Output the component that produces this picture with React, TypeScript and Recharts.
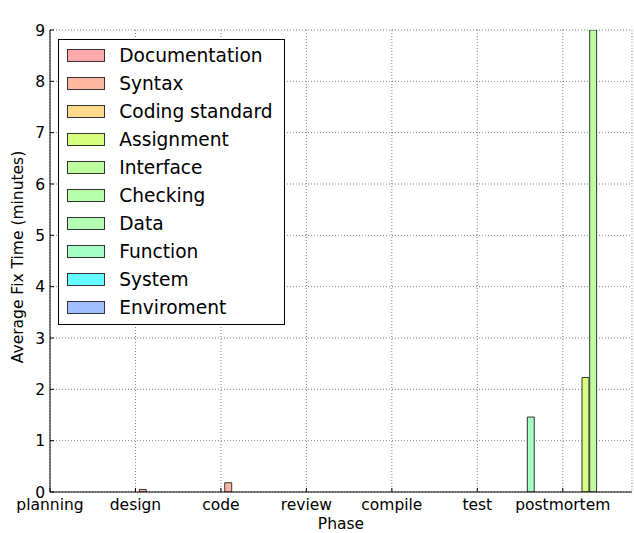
import React from 'react';
import { ComposedChart, Bar, XAxis, YAxis, CartesianGrid, Legend } from 'recharts';

const phases = ['planning', 'design', 'code', 'review', 'compile', 'test', 'postmortem'];
const defectTypes = [
  'Documentation',
  'Syntax',
  'Coding standard',
  'Assignment',
  'Interface',
  'Checking',
  'Data',
  'Function',
  'System',
  'Enviroment',
];

const documentationTimes = [0, 0, 0, 0, 0, 0, 0];
const syntaxTimes = [0, 0.05, 0.18, 0, 0, 0, 0];
const codingStandardTimes = [0, 0, 0, 0, 0, 0, 0];
const assignmentTimes = [0, 0, 0, 0, 0, 0, 2.23];
const interfaceTimes = [0, 0, 0, 0, 0, 0, 9.6];
const checkingTimes = [0, 0, 0, 0, 0, 0, 0];
const dataTimes = [0, 0, 0, 0, 0, 0, 0];
const functionTimes = [0, 0, 0, 0, 0, 1.46, 0];
const systemTimes = [0, 0, 0, 0, 0, 0, 0];
const enviromentTimes = [0, 0, 0, 0, 0, 0, 0];

const yTicks = [0, 1, 2, 3, 4, 5, 6, 7, 8, 9];
const xTicks = [0, 1, 2, 3, 4, 5, 6];

const typeColors = [
  '#ffaaaa',
  '#ffb9a3',
  '#ffd98c',
  '#d9ff80',
  '#c0ffa0',
  '#b8ffac',
  '#b3ffb3',
  '#a3ffc4',
  '#66ffff',
  '#a3bfff',
];

const seriesTimes = [
  documentationTimes,
  syntaxTimes,
  codingStandardTimes,
  assignmentTimes,
  interfaceTimes,
  checkingTimes,
  dataTimes,
  functionTimes,
  systemTimes,
  enviromentTimes,
];

// layout constants
const W = 634;
const H = 533;
const PLOT_LEFT = 50;
const PLOT_RIGHT = 632;
const PLOT_TOP = 30;
const PLOT_BOTTOM = 492;
const X_MAX = 6.81;
const BAR_STEP = 0.09;
const BAR_PX = (BAR_STEP * (PLOT_RIGHT - PLOT_LEFT)) / X_MAX;
const FONT = "'DejaVu Sans', sans-serif";
const EDGE = '#333';

const rows = phases.flatMap((_, i) =>
  defectTypes.map((__, j) => ({ x: i + j * BAR_STEP, ['s' + j]: seriesTimes[j][i] }))
);

const LegendBox = () => (
  <div
    style={{
      position: 'relative',
      width: 227,
      height: 286,
      boxSizing: 'border-box',
      border: '1px solid #000',
      background: '#fff',
      fontFamily: FONT,
      fontSize: 18.6,
      color: '#000',
    }}
  >
    {defectTypes.map((t, j) => (
      <div
        key={t}
        style={{
          position: 'absolute',
          left: 0,
          top: 1.7 + 28 * j,
          height: 28,
          display: 'flex',
          alignItems: 'center',
          whiteSpace: 'nowrap',
        }}
      >
        <div
          style={{
            marginLeft: 7.7,
            width: 38.3,
            height: 13,
            boxSizing: 'border-box',
            background: typeColors[j],
            border: '1px solid ' + EDGE,
            flex: 'none',
          }}
        />
        <span style={{ marginLeft: 14.3, lineHeight: 'normal' }}>{t}</span>
      </div>
    ))}
  </div>
);

const cx = (PLOT_LEFT + PLOT_RIGHT) / 2;

export default function App() {
  return (
    <div
      style={{
        position: 'absolute',
        left: 0,
        top: 0,
        width: W,
        height: H,
        background: '#fff',
        fontFamily: FONT,
      }}
    >
      <ComposedChart
        width={W}
        height={H}
        data={rows}
        margin={{ top: PLOT_TOP, right: W - PLOT_RIGHT, bottom: 0, left: 0 }}
        barGap={0}
        barCategoryGap={0}
      >
        <CartesianGrid stroke="#000" strokeDasharray="1 2" strokeWidth={0.5} />
        <XAxis
          dataKey="x"
          type="number"
          domain={[0, X_MAX]}
          ticks={xTicks}
          interval={0}
          allowDataOverflow
          tickFormatter={(v: number) => phases[v] ?? ''}
          height={H - PLOT_BOTTOM}
          tickSize={-4}
          tickMargin={11}
          stroke="#000"
          tick={{ fill: '#000', fontSize: 15.5, fontFamily: FONT }}
          label={{
            content: () => (
              <text x={cx} y={529} textAnchor="middle" fill="#000" fontSize={15.5} fontFamily={FONT}>
                Phase
              </text>
            ),
          }}
        />
        <XAxis
          xAxisId="top"
          orientation="top"
          dataKey="x"
          type="number"
          domain={[0, X_MAX]}
          ticks={xTicks}
          interval={0}
          allowDataOverflow
          height={0}
          tick={false}
          tickSize={-4}
          stroke="#000"
          label={{
            content: () => (
              <text x={cx} y={23.5} textAnchor="middle" fill="#000" fontSize={18.6} fontFamily={FONT}>
                Average Fix Time
              </text>
            ),
          }}
        />
        <YAxis
          type="number"
          domain={[0, 9]}
          ticks={yTicks}
          interval={0}
          allowDataOverflow
          width={PLOT_LEFT}
          tickSize={-4}
          tickMargin={9}
          stroke="#000"
          tick={{ fill: '#000', fontSize: 15.5, fontFamily: FONT }}
          label={{
            content: () => (
              <text
                x={23}
                y={257}
                transform="rotate(-90 23 257)"
                textAnchor="middle"
                fill="#000"
                fontSize={15.5}
                fontFamily={FONT}
              >
                Average Fix Time (minutes)
              </text>
            ),
          }}
        />
        <YAxis
          yAxisId="right"
          orientation="right"
          type="number"
          domain={[0, 9]}
          ticks={yTicks}
          interval={0}
          allowDataOverflow
          width={0}
          tick={false}
          tickSize={-4}
          stroke="#000"
        />
        {defectTypes.map((t, j) => (
          <Bar
            key={t}
            dataKey={'s' + j}
            name={t}
            stackId="all"
            barSize={BAR_PX}
            fill={typeColors[j]}
            stroke={EDGE}
            strokeWidth={1}
            isAnimationActive={false}
          />
        ))}
        <Legend
          layout="vertical"
          align="center"
          verticalAlign="middle"
          wrapperStyle={{ position: 'absolute', left: 58, top: 39, width: 227, height: 286 }}
          content={() => <LegendBox />}
        />
      </ComposedChart>
    </div>
  );
}
